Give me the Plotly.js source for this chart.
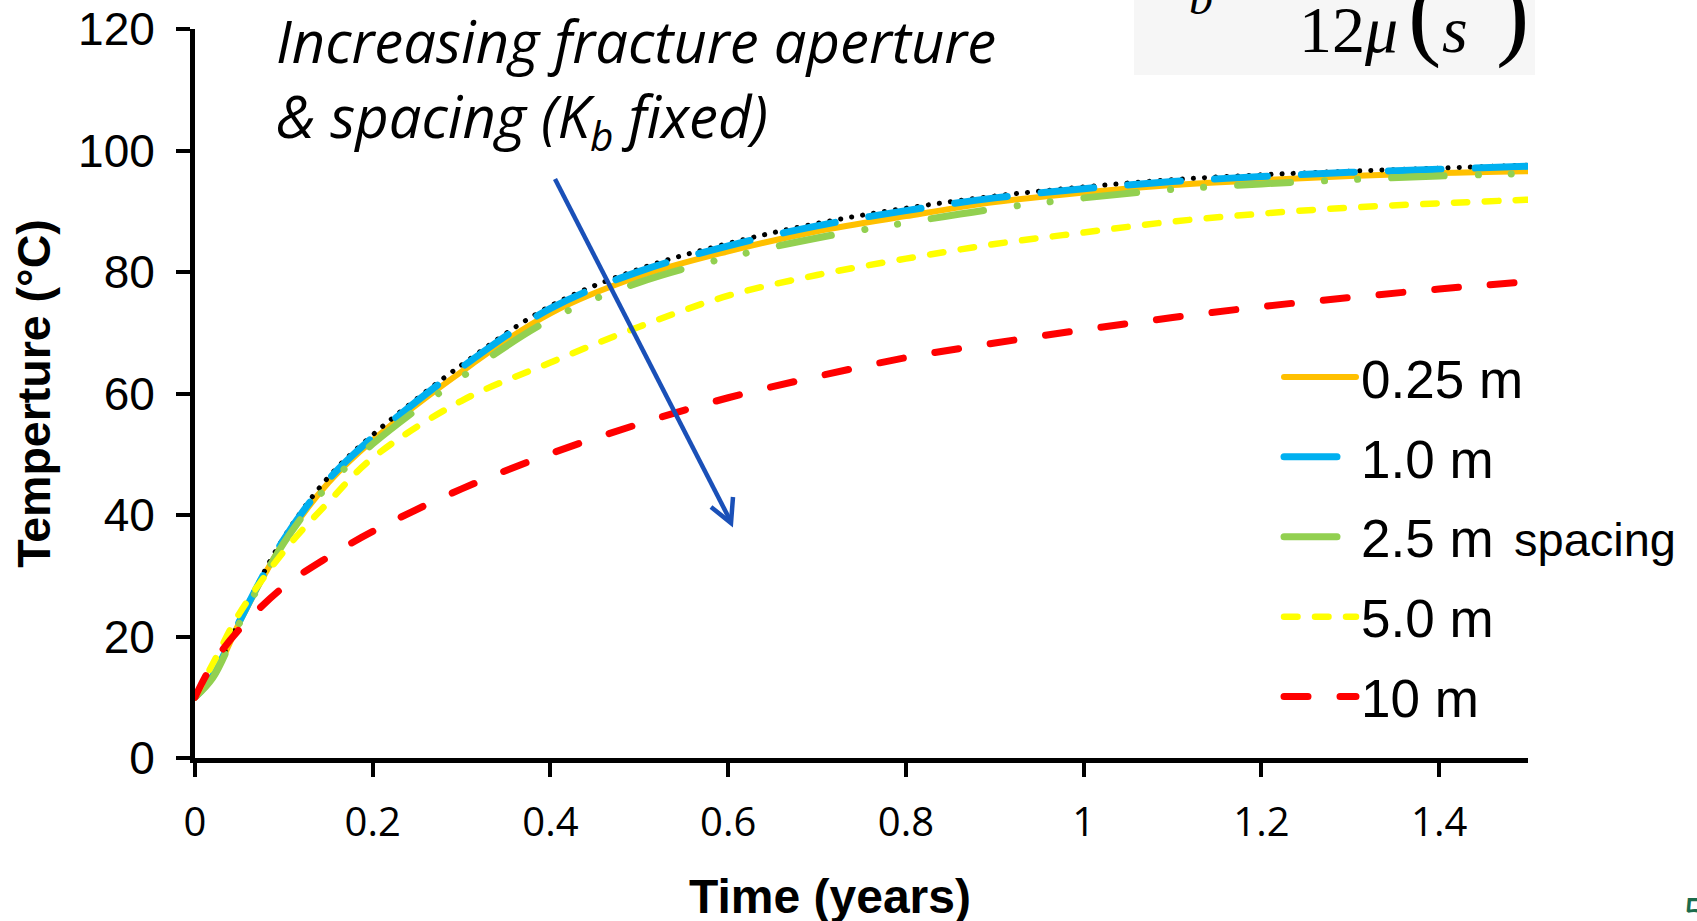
<!DOCTYPE html>
<html><head><meta charset="utf-8">
<script src="https://cdn.plot.ly/plotly-3.0.1.min.js"></script>
<style>html,body{margin:0;padding:0;background:#fff;overflow:hidden;} #chart{width:1697px;height:921px;}
#chart path.js-line{stroke-linecap:round !important;}
</style>
</head><body><div id="chart"></div>
<script>
// ---- data (time in years, temperature in °C) ----
const timeYears = [0, 0.02, 0.05, 0.1, 0.15, 0.2, 0.3, 0.4, 0.5, 0.6, 0.7, 0.8, 0.9, 1.0, 1.1, 1.2, 1.3, 1.4, 1.5];
const temp025m  = [10, 13.3, 22.3, 35.6, 45.3, 52.3, 63.6, 73.2, 79.3, 83.4, 86.7, 89.2, 91.5, 93.1, 94.3, 95.1, 95.8, 96.3, 96.6];
const tempRef   = [10, 13.6, 22.7, 36.3, 46.2, 53.2, 64.7, 74.4, 80.5, 84.7, 88.0, 90.5, 92.5, 94.0, 95.2, 96.0, 96.6, 97.1, 97.6];
const temp10m   = [10, 13.5, 22.5, 36.0, 45.8, 52.8, 64.3, 74.0, 80.1, 84.3, 87.6, 90.1, 92.2, 93.7, 94.9, 95.7, 96.4, 96.9, 97.4];
const temp25m   = [10, 13.2, 22.2, 35.4, 44.9, 51.7, 62.7, 72.2, 78.3, 82.4, 85.6, 88.1, 90.4, 92.2, 93.6, 94.5, 95.2, 95.8, 96.2];
const temp50m   = [10, 15.5, 23.8, 34.0, 42.1, 49.4, 58.8, 65.1, 71.0, 76.1, 79.5, 82.2, 84.6, 86.5, 88.3, 89.6, 90.6, 91.3, 91.9];
const temp100m  = [10, 15.5, 21.2, 28.2, 33.1, 37.3, 44.3, 50.1, 55.0, 59.3, 62.8, 65.9, 68.3, 70.5, 72.5, 74.3, 75.8, 77.2, 78.4];
const seriesNames = ['0.25 m', '1.0 m', '2.5 m', '5.0 m', '10 m'];
const xTickVals = [0, 0.2, 0.4, 0.6, 0.8, 1.0, 1.2, 1.4];
const xTickText = ['0', '0.2', '0.4', '0.6', '0.8', '1', '1.2', '1.4'];
const yTickVals = [0, 20, 40, 60, 80, 100, 120];

// ---- geometry helpers (pixel -> paper) ----
const W = 1697, H = 921, L = 195, R = 169, T = 29, B = 163;
const PW = W - L - R, PH = H - T - B;
const px = x => (x - L) / PW;
const py = y => (H - B - y) / PH;

const base = {x: timeYears, mode: 'lines', type: 'scatter', hoverinfo: 'skip'};
const traces = [
  Object.assign({}, base, {y: temp025m, name: seriesNames[0], legendgroup: 'g1',
    line: {color: '#FFC000', width: 6, shape: 'spline'}}),
  Object.assign({}, base, {y: tempRef, name: 'reference', showlegend: false, legendgroup: 'g0',
    line: {color: '#000000', width: 5, dash: '0.1px,11px', shape: 'spline'}}),
  Object.assign({}, base, {y: temp10m, name: seriesNames[1], legendgroup: 'g2',
    line: {color: '#00B0F0', width: 7, dash: '53px,34px', shape: 'spline'}}),
  Object.assign({}, base, {y: temp25m, name: seriesNames[2], legendgroup: 'g3',
    line: {color: '#92D050', width: 7, dash: '53px,34px,0.1px,33px,0.1px,34px', shape: 'spline'}}),
  Object.assign({}, base, {y: temp50m, name: seriesNames[3], legendgroup: 'g4',
    line: {color: '#FFFF00', width: 6.5, dash: '13.5px,17.5px', shape: 'spline'}}),
  Object.assign({}, base, {y: temp100m, name: seriesNames[4], legendgroup: 'g5',
    line: {color: '#FF0000', width: 7, dash: '24px,32px', shape: 'spline'}})
];

const arial = 'Liberation Sans, Arial, sans-serif';
const serif = 'Liberation Serif, Times New Roman, serif';

const layout = {
  width: W, height: H,
  margin: {l: L, r: R, t: T, b: B, pad: 0},
  paper_bgcolor: '#ffffff', plot_bgcolor: '#ffffff',
  showlegend: true,
  legend: {x: px(1279), xanchor: 'left', y: py(336), yanchor: 'top',
    font: {family: arial, size: 53, color: '#000'}, bgcolor: 'rgba(0,0,0,0)',
    itemwidth: 72, tracegroupgap: 8, traceorder: 'grouped', borderwidth: 0},
  xaxis: {range: [0, 1.5], tickvals: xTickVals, ticktext: xTickText,
    showline: true, linewidth: 5, linecolor: '#000', ticks: 'outside', ticklen: 14, tickwidth: 4, tickcolor: '#000',
    showgrid: false, zeroline: false, fixedrange: true,
    tickfont: {family: 'Open Sans, sans-serif', size: 40, color: '#000'}, ticklabelstandoff: 11},
  yaxis: {range: [0, 120], tickvals: yTickVals,
    showline: true, linewidth: 5, linecolor: '#000', ticks: 'outside', ticklen: 14, tickwidth: 4, tickcolor: '#000',
    showgrid: false, zeroline: false, fixedrange: true,
    tickfont: {family: arial, size: 46, color: '#000'}, ticklabelstandoff: 12,
    title: {text: 'Temperture (°C)', font: {family: arial, size: 46.5, color: '#000', weight: 'bold'}, standoff: 14}},
  shapes: [
    {type: 'rect', xref: 'paper', yref: 'paper', x0: px(1134), x1: px(1535), y0: py(0), y1: py(75),
      fillcolor: '#f6f6f6', line: {width: 0}, layer: 'below'},
    {type: 'line', xref: 'paper', yref: 'paper', x0: px(555), y0: py(179), x1: px(730), y1: py(520),
      line: {color: '#1A50B8', width: 4.5}},
    {type: 'path', xref: 'paper', yref: 'paper',
      path: 'M ' + px(711) + ' ' + py(507) + ' L ' + px(731) + ' ' + py(523) + ' L ' + px(733) + ' ' + py(497),
      line: {color: '#1A50B8', width: 4.5}}
  ],
  annotations: [
    {xref: 'paper', yref: 'paper', x: px(830), y: py(896), xanchor: 'center', yanchor: 'middle', showarrow: false,
      text: '<b>Time (years)</b>', font: {family: arial, size: 48, color: '#000'}},
    {xref: 'paper', yref: 'paper', x: px(274), y: py(-1), xanchor: 'left', yanchor: 'top', align: 'left', showarrow: false,
      text: '<i>Increasing fracture aperture<br>&amp; spacing (K<sub>b</sub> fixed)</i>',
      font: {family: 'Open Sans, sans-serif', size: 58, color: '#000'}},
    {xref: 'paper', yref: 'paper', x: px(1512), y: py(539), xanchor: 'left', yanchor: 'middle', showarrow: false,
      text: 'spacing', font: {family: arial, size: 47, color: '#000'}},
    {xref: 'paper', yref: 'paper', x: px(1681), y: py(880), xanchor: 'left', yanchor: 'top', showarrow: false,
      text: '5', font: {family: 'Open Sans, sans-serif', size: 44, color: '#1B6B4C'}},
    {xref: 'paper', yref: 'paper', x: px(1201), y: py(-3), xanchor: 'center', yanchor: 'middle', showarrow: false,
      text: '<i>b</i>', font: {family: serif, size: 48, color: '#000'}},
    {xref: 'paper', yref: 'paper', x: px(1348), y: py(30), xanchor: 'center', yanchor: 'middle', showarrow: false,
      text: '12<i>μ</i>', font: {family: serif, size: 66, color: '#000'}},
    {xref: 'paper', yref: 'paper', x: px(1424), y: py(13), xanchor: 'center', yanchor: 'middle', showarrow: false,
      text: '(', font: {family: serif, size: 100, color: '#000'}},
    {xref: 'paper', yref: 'paper', x: px(1455), y: py(30), xanchor: 'center', yanchor: 'middle', showarrow: false,
      text: '<i>s</i>', font: {family: serif, size: 66, color: '#000'}},
    {xref: 'paper', yref: 'paper', x: px(1512), y: py(13), xanchor: 'center', yanchor: 'middle', showarrow: false,
      text: ')', font: {family: serif, size: 100, color: '#000'}}
  ]
};

Plotly.newPlot('chart', traces, layout, {displayModeBar: false, staticPlot: true});
</script></body></html>
